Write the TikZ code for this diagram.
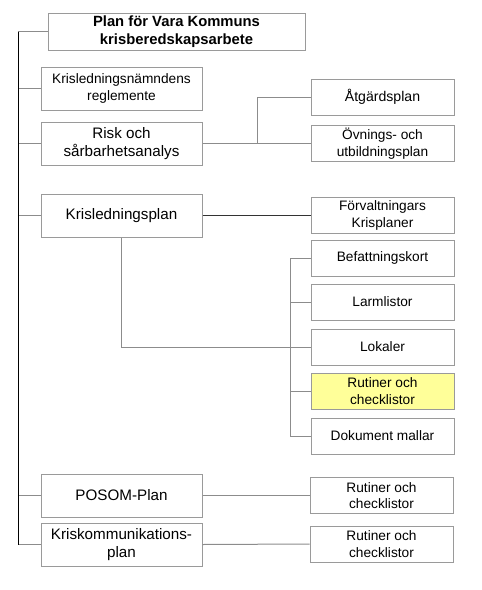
\documentclass[tikz,border=0pt]{standalone}
\usepackage{fontspec}
\setmainfont{Liberation Sans}
\usepackage{tikz}
\usetikzlibrary{positioning,calc}

\definecolor{boxline}{HTML}{9A9A9A}
\definecolor{treeline}{HTML}{8C8C8C}
\definecolor{markfill}{HTML}{FFFF99}

\begin{document}
\begin{tikzpicture}[x=1pt,y=-1pt,
	docbox/.style={rectangle, draw=boxline, line width=1pt, fill=white, align=center, inner sep=0pt, font=\fontsize{13.7}{16.8}\selectfont},
	mainbox/.style={docbox, minimum width=161pt, minimum height=43pt, font=\fontsize{15.2}{18}\selectfont},
	subbox/.style={docbox, minimum width=143pt, minimum height=36pt},
	link/.style={draw=treeline, line width=1pt},
	bus/.style={draw=black, line width=1pt}]

	\useasboundingbox (0,0) rectangle (482,590);

	\node[docbox, minimum width=257pt, minimum height=37pt, font=\fontsize{14.8}{18}\selectfont\bfseries] (Plan) at (176.5,31.5) {Plan för Vara Kommuns\\krisberedskapsarbete};

	\node[mainbox, font=\fontsize{13.7}{17}\selectfont] (Namnd) at (121.5,88.5) {Krisledningsnämndens\\reglemente};
	\node[mainbox] (Risk) at (121.5,143.5) {Risk och\\sårbarhetsanalys};
	\node[mainbox] (KPlan) at (121.5,215.5) {Krisledningsplan};
	\node[mainbox] (Posom) at (121.5,495.5) {POSOM-Plan};
	\node[mainbox] (KKom) at (121.5,544.5) {Kriskommunikations-\\plan};

	\node[subbox, font=\fontsize{14.1}{17}\selectfont] (Atgard) at (382.5,97) {Åtgärdsplan};
	\node[subbox] (Ovning) at (382.5,143.5) {Övnings- och\\utbildningsplan};
	\node[subbox] (Forv) at (382.5,215.5) {Förvaltningars\\Krisplaner};
	\node[subbox] (Befatt) at (382.5,258) {Befattningskort};
	\node[subbox] (Larm) at (382.5,302) {Larmlistor};
	\node[subbox] (Lokal) at (382.5,347) {Lokaler};
	\node[subbox, fill=markfill] (Rutin) at (382.5,391) {Rutiner och\\checklistor};
	\node[subbox] (Dokum) at (382.5,436) {Dokument mallar};
	\node[subbox] (PRutin) at (381.5,495.5) {Rutiner och\\checklistor};
	\node[subbox] (KRutin) at (381.5,544) {Rutiner och\\checklistor};

	% left bus
	\coordinate (BusTop) at (18,31.5);
	\coordinate (BusEnd) at (18,544.5);
	\draw[link] (Plan.west) -- (BusTop);
	\draw[link] (Namnd.west) -- (Namnd.west -| BusTop);
	\draw[link] (Risk.west) -- (Risk.west -| BusTop);
	\draw[link] (KPlan.west) -- (KPlan.west -| BusTop);
	\draw[link] (Posom.west) -- (Posom.west -| BusTop);
	\draw[link] (KKom.west) -- (BusEnd);
	\draw[bus] (BusTop) -- (BusEnd);

	% risk branch
	\coordinate (RiskFork) at (257,143.5);
	\draw[link] (Risk.east) -- (Ovning.west);
	\draw[link] (RiskFork) |- (Atgard.west);

	% krisledningsplan branch
	\draw[draw=black!80, line width=1.3pt] (KPlan.east) -- (Forv.west);
	\draw[link] (KPlan.south) |- (Lokal.west);
	\coordinate (KBus) at (290,258);
	\draw[link] (Befatt.west) -- (KBus) |- (Dokum.west);
	\draw[link] (Larm.west) -- (Larm.west -| KBus);
	\draw[link] (Rutin.west) -- (Rutin.west -| KBus);

	\draw[link] (Posom.east) -- (PRutin.west);
	\draw[link] (KKom.east) -- (KRutin.west);

\end{tikzpicture}
\end{document}
